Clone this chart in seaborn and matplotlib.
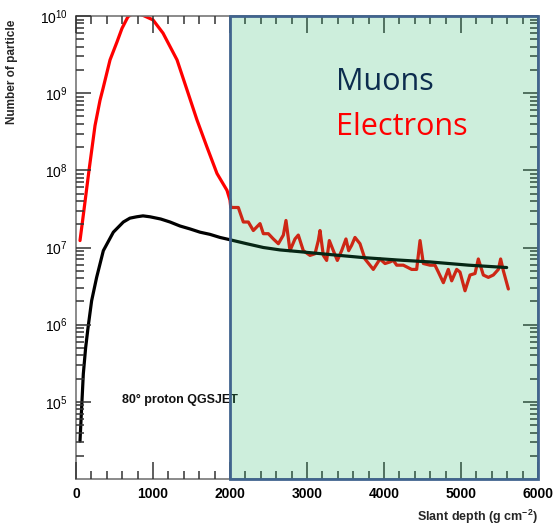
import matplotlib
matplotlib.use("Agg")
import matplotlib.pyplot as plt
from matplotlib.patches import Rectangle
from matplotlib.ticker import MultipleLocator, LogLocator, NullFormatter, FixedLocator
import numpy as np
import pandas as pd
import seaborn as sns

# Slant depth (g cm^-2) and particle numbers for an 80 deg proton shower
electron_depth = [52, 91, 169, 247, 312, 351, 442, 532, 597, 675, 766, 870,
                  1000, 1130, 1312, 1442, 1571, 1701, 1831, 1961, 2000, 2010,
                  2108, 2173, 2238, 2303, 2390, 2433, 2498, 2563, 2628, 2693,
                  2727, 2779, 2844, 2887, 2952, 3039, 3104, 3147, 3169, 3212,
                  3255, 3290, 3342, 3394, 3450, 3506, 3541, 3580, 3623, 3688,
                  3753, 3861, 3948, 4013, 4078, 4121, 4165, 4251, 4359, 4424,
                  4468, 4511, 4597, 4662, 4706, 4771, 4835, 4879, 4944, 4987,
                  5052, 5117, 5182, 5225, 5290, 5355, 5420, 5485, 5515, 5550,
                  5615]
electron_count = [1.23e7, 2.45e7, 1.0e8, 3.8e8, 8.1e8, 1.15e9, 2.7e9, 4.6e9,
                  6.9e9, 9.8e9, 1.12e10, 1.02e10, 8.9e9, 6.0e9, 2.7e9, 1.1e9,
                  4.5e8, 2.0e8, 9.1e7, 5.5e7, 4.1e7, 3.3e7,
                  3.3e7, 2.14e7, 2.14e7, 1.66e7, 2.04e7, 1.51e7, 1.51e7,
                  1.29e7, 1.12e7, 1.45e7, 2.24e7, 9.1e6, 1.29e7, 1.45e7,
                  9.1e6, 7.9e6, 8.3e6, 1.23e7, 1.66e7, 7.9e6, 6.8e6, 1.23e7,
                  9.1e6, 6.8e6, 9.1e6, 1.29e7, 9.1e6, 1.07e7, 1.35e7, 1.12e7,
                  7.1e6, 5.2e6, 7.1e6, 6.2e6, 6.5e6, 6.8e6, 5.9e6, 5.9e6,
                  5.2e6, 5.2e6, 1.23e7, 6.2e6, 5.9e6, 5.9e6, 4.8e6, 3.5e6,
                  5.2e6, 3.7e6, 5.2e6, 4.8e6, 2.75e6, 4.4e6, 4.6e6, 7.1e6,
                  4.4e6, 4.1e6, 4.4e6, 5.2e6, 7.1e6, 5.0e6, 2.9e6]

muon_depth = [52, 73, 95, 125, 156, 203, 268, 355, 485, 615, 700, 788, 870,
              961, 1100, 1221, 1350, 1481, 1610, 1740, 1870, 2000, 2216, 2433,
              2650, 2866, 3300, 3731, 4164, 4597, 5100, 5593]
muon_count = [3.1e4, 8.3e4, 2.3e5, 5.0e5, 9.1e5, 2.04e6, 4.1e6, 9.1e6, 1.58e7,
              2.14e7, 2.4e7, 2.5e7, 2.57e7, 2.5e7, 2.34e7, 2.14e7, 1.9e7,
              1.74e7, 1.58e7, 1.48e7, 1.35e7, 1.26e7, 1.12e7, 1.0e7, 9.3e6,
              8.9e6, 8.1e6, 7.4e6, 6.9e6, 6.5e6, 5.9e6, 5.5e6]

x_ticks = [0, 1000, 2000, 3000, 4000, 5000, 6000]
y_ticks = [1e5, 1e6, 1e7, 1e8, 1e9, 1e10]
series_labels = ["Muons", "Electrons"]
panel_note = "80\u00b0 proton QGSJET"

sns.set_style("ticks")
plt.rcParams["font.family"] = ["Liberation Sans", "DejaVu Sans"]
plt.rcParams["mathtext.fontset"] = "custom"
plt.rcParams["mathtext.rm"] = "Liberation Sans:bold"
plt.rcParams["mathtext.default"] = "rm"

electrons = pd.DataFrame({"depth": electron_depth, "count": electron_count})
muons = pd.DataFrame({"depth": muon_depth, "count": muon_count})

fig = plt.figure(figsize=(5.54, 5.26), dpi=100)
ax = fig.add_axes([76 / 554, 47 / 526, 462 / 554, 463 / 526])

sns.lineplot(data=electrons, x="depth", y="count", ax=ax, color="#ff0000",
             linewidth=2.3, sort=False, estimator=None, zorder=2)
sns.lineplot(data=muons, x="depth", y="count", ax=ax, color="#000000",
             linewidth=2.3, sort=False, estimator=None, zorder=2)

ax.set_yscale("log")
ax.set_xlim(0, 6000)
ax.set_ylim(1e4, 1e10)
ax.set_xlabel("")
ax.set_ylabel("")

ax.xaxis.set_major_locator(FixedLocator(x_ticks))
ax.xaxis.set_minor_locator(MultipleLocator(200))
ax.yaxis.set_major_locator(FixedLocator(y_ticks))
ax.yaxis.set_minor_locator(LogLocator(base=10, subs=np.arange(2, 10), numticks=12))
ax.yaxis.set_minor_formatter(NullFormatter())

for s in ax.spines.values():
    s.set_color("#777777")
    s.set_linewidth(1.2)
    s.set_zorder(6)
ax.set_axisbelow(False)
ax.xaxis.set_zorder(6)
ax.yaxis.set_zorder(6)
ax.tick_params(axis="both", which="both", direction="in", top=True,
               right=True, bottom=True, left=True, color="#333333",
               width=1.1)
ax.tick_params(axis="x", which="major", length=12)
ax.tick_params(axis="y", which="major", length=11)
ax.tick_params(axis="both", which="minor", length=6)
ax.tick_params(axis="both", which="major", labelsize=10, pad=6,
               labelcolor="black")
for lab in ax.get_xticklabels():
    lab.set_fontweight("bold")

# shaded depth window, laid over the curves and the inner ticks
ax.add_patch(Rectangle((2000, 1e4), 4000, 1e10 - 1e4, facecolor="#1fb262",
                       alpha=0.22, edgecolor="none", zorder=6.5))
ax.add_patch(Rectangle((2000, 1e4), 4000, 1e10 - 1e4, facecolor="none",
                       edgecolor="#41648e", linewidth=2.0, zorder=7,
                       clip_on=False))

ax.text(597, 10 ** 5.03, panel_note, fontsize=9, fontweight="bold",
        ha="left", va="center", color="#111111", zorder=5)

ax.text(0.563, 0.840, series_labels[0], transform=ax.transAxes,
        fontsize=22, color="#0c2c4e", family=["Open Sans", "DejaVu Sans"],
        ha="left", va="baseline", zorder=8)
ax.text(0.563, 0.743, series_labels[1], transform=ax.transAxes,
        fontsize=22, color="#ff0000", family=["Open Sans", "DejaVu Sans"],
        ha="left", va="baseline", zorder=8)

fig.text(12 / 554, 1 - 72 / 526, "Number of particle", rotation=90,
         fontsize=8.5, fontweight="bold", ha="center", va="center")
fig.text(538 / 554, 1 - 517 / 526, "Slant depth (g cm$^{-2}$)",
         fontsize=9, fontweight="bold", ha="right", va="center")

fig.savefig("out.png", dpi=100)
